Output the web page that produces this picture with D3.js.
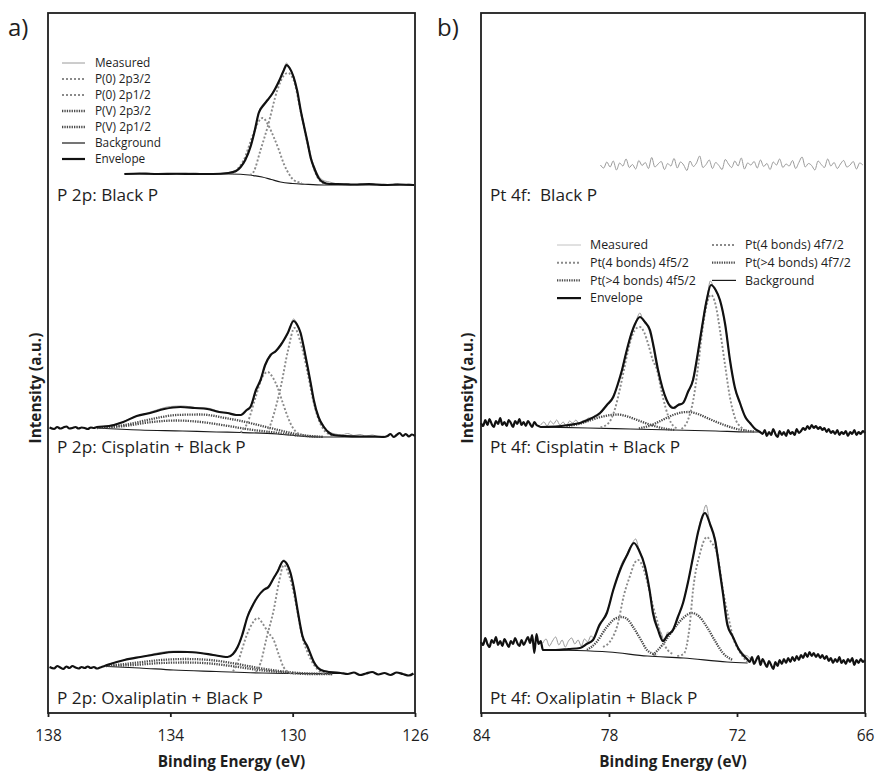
<!DOCTYPE html>
<html>
<head>
<meta charset="utf-8">
<script src="https://cdn.jsdelivr.net/npm/d3@7"></script>
<style>
  body { margin: 0; background: #fff; }
  svg { display: block; }
  text { font-family: "Open Sans", Lato, sans-serif; fill: #1e1e1e; }
</style>
</head>
<body>
<svg id="chart" width="876" height="772"></svg>
<script>
// ---------- axis ticks, labels ----------
const energyTicksP = [138, 134, 130, 126];
const energyTicksPt = [84, 78, 72, 66];
const rowLabelsP = ["P 2p: Black P", "P 2p: Cisplatin + Black P", "P 2p: Oxaliplatin + Black P"];
const rowLabelsPt = ["Pt 4f:  Black P", "Pt 4f: Cisplatin + Black P", "Pt 4f: Oxaliplatin + Black P"];
const legendP = ["Measured", "P(0) 2p3/2", "P(0) 2p1/2", "P(V) 2p3/2", "P(V) 2p1/2", "Background", "Envelope"];
const legendPt = ["Measured", "Pt(4 bonds) 4f5/2", "Pt(>4 bonds) 4f5/2", "Envelope", "Pt(4 bonds) 4f7/2", "Pt(>4 bonds) 4f7/2", "Background"];

// ---------- P 2p spectra: [binding energy (eV), intensity (a.u.)] ----------
const pBlackMeasured = [[135.5,106],[135.2,102],[134.8,108],[134.4,102],[134.0,106],[133.6,104],[133.2,108],[132.8,102],[132.4,106],[132.1,110],[131.85,120],[131.7,136],[131.55,164],[131.38,216],[131.25,268],[131.11,352],[130.95,384],[130.82,396],[130.65,432],[130.46,468],[130.3,520],[130.2,548],[130.1,524],[129.97,496],[129.85,432],[129.74,364],[129.62,296],[129.51,236],[129.4,172],[129.31,140],[129.15,96],[129.02,80],[128.8,72],[128.6,66],[128.4,60],[128.2,66],[128.0,58],[127.8,64],[127.6,60],[127.4,66],[127.2,58],[127.0,64],[126.8,60],[126.6,66],[126.4,58],[126.2,64],[126.03,60]];
const pBlackEnvelope = [[135.5,104],[135.0,106],[134.4,104],[133.8,105],[133.2,104],[132.6,104],[132.1,108],[131.85,116],[131.7,132],[131.55,160],[131.38,212],[131.25,272],[131.11,348],[130.95,380],[130.82,400],[130.65,428],[130.46,472],[130.3,516],[130.2,540],[130.1,528],[129.97,492],[129.85,436],[129.74,360],[129.62,290],[129.51,228],[129.4,164],[129.31,132],[129.15,88],[129.02,72],[128.8,64],[128.52,64],[128.0,62],[127.5,64],[127.0,60],[126.5,62],[126.03,60]];
const pBlackBackground = [[135.5,104],[132.1,104],[131.7,103],[131.3,98],[131.0,92],[130.7,82],[130.4,72],[130.0,66],[129.6,63],[129.0,60],[126.03,60]];
const pBlackP0_32 = [[131.4,100],[131.28,112],[131.05,200],[130.82,292],[130.5,440],[130.3,496],[130.16,508],[129.97,480],[129.74,356],[129.51,224],[129.31,128],[129.1,76],[128.9,64],[128.6,62]];
const pBlackP0_12 = [[132.0,104],[131.8,124],[131.6,160],[131.3,260],[131.1,316],[130.98,328],[130.8,300],[130.62,252],[130.45,200],[130.3,148],[130.1,100],[129.97,80],[129.7,68]];

const pCisMeasured = [[136.4,92],[136.0,98],[135.6,110],[135.2,132],[134.8,146],[134.4,162],[134.0,174],[133.6,176],[133.2,170],[132.8,168],[132.4,154],[132.1,146],[131.85,142],[131.7,138],[131.5,164],[131.38,176],[131.2,236],[131.05,284],[130.9,336],[130.72,384],[130.55,392],[130.39,424],[130.16,464],[129.97,524],[129.85,504],[129.74,464],[129.62,404],[129.51,328],[129.4,264],[129.31,196],[129.15,134],[128.98,96],[128.8,72],[128.6,64],[128.4,60],[128.2,66],[128.0,58],[127.8,62],[127.6,56],[127.4,60],[127.2,54],[127.02,56]];
const pCisEnvelope = [[137.95,90],[137.8,84],[137.7,92],[137.6,86],[137.5,90],[137.4,94],[137.3,86],[137.2,88],[137.1,92],[137.0,86],[136.9,90],[136.8,88],[136.7,84],[136.6,90],[136.5,88],[136.4,92],[136.0,96],[135.54,112],[135.1,136],[134.66,148],[134.2,164],[133.67,172],[133.2,168],[132.79,164],[132.4,152],[132.13,148],[131.85,140],[131.7,140],[131.5,160],[131.38,172],[131.2,240],[131.05,280],[130.9,340],[130.72,380],[130.55,396],[130.39,420],[130.16,468],[129.97,516],[129.85,500],[129.74,468],[129.62,400],[129.51,332],[129.4,260],[129.31,200],[129.15,130],[128.98,92],[128.8,68],[128.66,60],[128.3,56],[127.8,54],[127.3,54],[127.02,52],[126.9,56],[126.8,64],[126.7,52],[126.6,60],[126.5,68],[126.4,56],[126.3,64],[126.2,54],[126.1,62],[126.0,56]];
const pCisBackground = [[136.4,88],[135.0,80],[133.6,76],[132.5,72],[131.7,70],[130.5,64],[129.74,56],[129.0,52],[127.0,52]];
const pCisP0_32 = [[130.82,68],[130.6,150],[130.39,252],[130.15,400],[129.94,488],[129.74,430],[129.51,308],[129.35,210],[129.18,132],[129.0,84],[128.75,60],[128.5,54]];
const pCisP0_12 = [[131.7,70],[131.48,108],[131.21,212],[131.0,290],[130.82,312],[130.65,290],[130.5,252],[130.3,180],[130.16,132],[130.0,90],[129.84,68],[129.6,58]];
const pCisPV_32 = [[136.4,88],[135.5,100],[134.6,124],[133.8,140],[133.0,142],[132.2,128],[131.4,108],[130.6,84],[129.8,62],[129.0,52]];
const pCisPV_12 = [[136.4,88],[135.5,96],[134.6,112],[133.8,118],[133.0,112],[132.2,98],[131.4,82],[130.6,70],[129.8,58],[129.0,52]];

const pOxaMeasured = [[136.07,142],[135.7,154],[135.3,166],[134.9,174],[134.5,186],[134.1,194],[133.7,196],[133.3,192],[132.9,186],[132.5,178],[132.13,174],[131.95,188],[131.8,216],[131.65,256],[131.48,336],[131.3,384],[131.15,408],[130.95,444],[130.79,456],[130.62,484],[130.5,516],[130.3,560],[130.17,544],[130.07,504],[129.95,444],[129.84,356],[129.68,260],[129.51,208],[129.3,154],[129.08,124],[128.8,114],[128.43,110]];
const pOxaEnvelope = [[137.95,132],[137.8,126],[137.7,136],[137.6,130],[137.5,124],[137.4,134],[137.3,128],[137.2,136],[137.1,130],[137.0,126],[136.9,132],[136.8,128],[136.7,134],[136.6,128],[136.5,132],[136.4,126],[136.3,130],[136.2,134],[136.07,140],[135.5,160],[134.98,172],[134.4,184],[133.9,192],[133.45,192],[133.02,188],[132.6,180],[132.13,172],[131.95,184],[131.8,212],[131.65,260],[131.48,332],[131.3,380],[131.15,412],[130.95,440],[130.79,452],[130.62,488],[130.5,512],[130.3,556],[130.17,540],[130.07,508],[129.95,440],[129.84,360],[129.68,256],[129.51,212],[129.3,150],[129.08,120],[128.8,112],[128.43,108],[128.2,104],[128.0,110],[127.8,100],[127.6,106],[127.4,112],[127.2,102],[127.0,108],[126.8,100],[126.6,110],[126.4,104],[126.2,98],[126.05,106]];
const pOxaBackground = [[136.07,134],[135.0,128],[133.9,120],[132.5,114],[131.0,108],[129.5,106],[128.43,106]];
const pOxaP0_32 = [[131.2,112],[131.05,148],[130.85,250],[130.62,360],[130.45,470],[130.29,540],[130.12,500],[129.95,420],[129.84,350],[129.68,250],[129.51,190],[129.3,140],[129.1,114],[128.9,106]];
const pOxaP0_12 = [[131.95,114],[131.77,160],[131.5,260],[131.3,310],[131.15,328],[130.95,300],[130.8,270],[130.62,240],[130.45,180],[130.3,132],[130.1,110],[129.9,106]];
const pOxaPV_32 = [[136.1,136],[135.2,148],[134.3,160],[133.5,164],[132.7,160],[131.9,146],[131.1,128],[130.3,114],[129.5,106],[128.7,104]];
const pOxaPV_12 = [[136.1,136],[135.2,140],[134.3,148],[133.5,150],[132.7,146],[131.9,134],[131.1,120],[130.3,110],[129.5,104],[128.7,104]];

// ---------- Pt 4f spectra: [binding energy (eV), intensity (a.u.)] ----------
const ptBlackMeasured = [[78.4,140],[78.25,128],[78.1,152],[77.95,132],[77.8,156],[77.65,120],[77.5,148],[77.35,136],[77.2,164],[77.05,130],[76.9,142],[76.75,124],[76.6,158],[76.45,138],[76.3,150],[76.15,126],[76.0,170],[75.85,132],[75.7,144],[75.55,154],[75.4,122],[75.25,146],[75.1,136],[74.95,166],[74.8,128],[74.65,152],[74.5,140],[74.35,118],[74.2,156],[74.05,134],[73.9,148],[73.75,176],[73.6,130],[73.45,142],[73.3,160],[73.15,126],[73.0,150],[72.85,138],[72.7,122],[72.55,162],[72.4,144],[72.25,130],[72.1,156],[71.95,136],[71.8,168],[71.65,124],[71.5,148],[71.35,140],[71.2,154],[71.05,128],[70.9,160],[70.75,134],[70.6,146],[70.45,122],[70.3,152],[70.15,140],[70.0,164],[69.85,130],[69.7,144],[69.55,136],[69.4,158],[69.25,126],[69.1,150],[68.95,172],[68.8,132],[68.65,146],[68.5,138],[68.35,120],[68.2,156],[68.05,142],[67.9,130],[67.75,164],[67.6,136],[67.45,150],[67.3,126],[67.15,144],[67.0,158],[66.85,132],[66.7,140],[66.55,154],[66.4,124],[66.25,148],[66.1,140]];

const ptCisMeasured = [[81.2,100],[81.05,112],[80.9,96],[80.75,116],[80.6,104],[80.45,120],[80.3,100],[80.15,112],[80.0,96],[79.85,116],[79.7,108],[79.55,120],[79.4,104],[79.25,116],[79.1,120],[78.95,128],[78.8,124],[78.65,140],[78.5,136],[78.35,152],[78.2,168],[78.05,184],[77.9,200],[77.75,228],[77.6,256],[77.45,300],[77.3,356],[77.15,400],[77.0,456],[76.85,488],[76.7,524],[76.55,548],[76.4,516],[76.25,504],[76.1,472],[75.95,424],[75.8,344],[75.65,300],[75.5,248],[75.35,212],[75.2,184],[75.05,176],[74.9,164],[74.75,184],[74.6,184],[74.45,204],[74.3,228],[74.15,260],[74.0,312],[73.85,380],[73.7,460],[73.55,548],[73.4,612],[73.25,676],[73.1,652],[72.95,628],[72.8,600],[72.65,540],[72.5,476],[72.35,372],[72.2,296],[72.05,228],[71.9,196],[71.75,156],[71.6,136],[71.45,112],[71.3,96],[71.15,88],[71.0,76]];
const ptCisEnvelope = [[84.0,108],[83.9,96],[83.8,120],[83.7,100],[83.6,124],[83.5,104],[83.4,92],[83.3,116],[83.2,104],[83.1,128],[83.0,100],[82.9,112],[82.8,96],[82.7,120],[82.6,108],[82.5,92],[82.4,116],[82.3,104],[82.2,124],[82.1,100],[82.0,112],[81.9,96],[81.8,116],[81.7,104],[81.6,92],[81.5,112],[81.4,100],[81.3,96],[81.2,92],[80.5,94],[79.9,100],[79.36,108],[78.9,124],[78.42,148],[78.1,180],[77.8,212],[77.6,260],[77.39,320],[77.2,388],[77.0,452],[76.8,500],[76.55,532],[76.3,510],[76.08,480],[75.9,410],[75.7,320],[75.5,250],[75.3,200],[75.0,168],[74.75,180],[74.53,188],[74.3,232],[74.06,280],[73.85,380],[73.64,492],[73.42,600],[73.22,660],[73.0,640],[72.8,600],[72.55,500],[72.33,360],[72.1,250],[71.86,188],[71.6,130],[71.39,108],[71.15,84],[70.92,72],[70.8,64],[70.7,80],[70.6,56],[70.5,72],[70.4,60],[70.3,84],[70.2,64],[70.1,52],[70.0,76],[69.9,60],[69.8,72],[69.7,56],[69.6,80],[69.5,64],[69.4,72],[69.3,60],[69.2,84],[69.1,68],[69.0,76],[68.9,88],[68.8,80],[68.7,96],[68.6,84],[68.5,100],[68.4,88],[68.3,96],[68.2,84],[68.1,92],[68.0,80],[67.9,88],[67.8,72],[67.7,84],[67.6,68],[67.5,76],[67.4,64],[67.3,80],[67.2,60],[67.1,72],[67.0,64],[66.9,76],[66.8,56],[66.7,72],[66.6,64],[66.5,80],[66.4,60],[66.3,72],[66.2,64],[66.1,76],[66.0,68]];
const ptCisBackground = [[81.2,92],[79.0,88],[77.0,84],[75.0,80],[73.0,76],[71.5,72],[70.92,72]];
const ptCis4f52_4 = [[78.4,90],[78.0,110],[77.7,170],[77.5,240],[77.3,320],[77.1,400],[76.9,460],[76.7,488],[76.55,492],[76.35,470],[76.15,420],[75.95,360],[75.75,320],[75.55,240],[75.35,170],[75.1,110],[74.8,86]];
const ptCis4f72_4 = [[74.6,84],[74.3,120],[74.05,200],[73.83,330],[73.65,460],[73.45,570],[73.22,620],[73.0,580],[72.8,480],[72.56,340],[72.35,220],[72.1,130],[71.8,90],[71.5,76]];
const ptCis4f52_5 = [[80.0,96],[79.4,104],[78.9,118],[78.4,132],[77.9,140],[77.58,142],[77.2,136],[76.8,124],[76.3,108],[75.8,94],[75.3,84],[74.9,80]];
const ptCis4f72_5 = [[76.6,86],[76.0,100],[75.5,120],[75.0,140],[74.6,150],[74.3,152],[73.9,146],[73.4,128],[72.9,110],[72.4,94],[71.9,82],[71.2,74]];

const ptOxaMeasured = [[81.1,228],[80.95,244],[80.8,216],[80.65,236],[80.5,252],[80.35,220],[80.2,240],[80.05,212],[79.9,236],[79.75,248],[79.6,224],[79.45,240],[79.3,216],[79.15,244],[79.0,232],[78.85,256],[78.7,248],[78.55,276],[78.4,300],[78.25,328],[78.1,356],[77.95,392],[77.8,444],[77.65,480],[77.5,524],[77.35,556],[77.2,576],[77.05,604],[76.9,628],[76.75,644],[76.6,604],[76.45,572],[76.3,528],[76.15,460],[76.0,380],[75.85,332],[75.7,292],[75.55,268],[75.4,232],[75.25,272],[75.1,268],[74.95,296],[74.8,320],[74.65,360],[74.5,396],[74.35,452],[74.2,508],[74.05,580],[73.9,636],[73.75,704],[73.6,744],[73.45,780],[73.3,720],[73.15,676],[73.0,636],[72.85,548],[72.7,452],[72.55,368],[72.4,296],[72.25,268],[72.1,236],[71.95,212],[71.8,196],[71.65,180],[71.5,176],[71.35,160]];
const ptOxaEnvelope = [[84.0,232],[83.9,220],[83.8,248],[83.7,224],[83.6,212],[83.5,240],[83.4,228],[83.3,252],[83.2,220],[83.1,236],[83.0,216],[82.9,244],[82.8,228],[82.7,212],[82.6,236],[82.5,224],[82.4,248],[82.3,228],[82.2,216],[82.1,240],[82.0,220],[81.9,236],[81.8,252],[81.7,228],[81.6,260],[81.5,188],[81.4,264],[81.3,224],[81.2,236],[81.1,200],[80.5,200],[79.9,204],[79.36,208],[79.05,224],[78.75,240],[78.45,300],[78.1,348],[77.8,440],[77.48,520],[77.15,580],[76.83,628],[76.6,600],[76.31,532],[76.1,440],[75.94,348],[75.7,280],[75.47,236],[75.25,260],[75.0,280],[74.78,330],[74.53,388],[74.3,470],[74.06,572],[73.8,680],[73.5,748],[73.25,700],[73.03,640],[72.85,540],[72.66,428],[72.45,300],[72.19,252],[71.9,200],[71.53,164],[71.4,152],[71.3,172],[71.2,144],[71.1,160],[71.0,176],[70.9,140],[70.8,164],[70.7,148],[70.6,132],[70.5,156],[70.4,140],[70.3,124],[70.2,152],[70.1,136],[70.0,160],[69.9,144],[69.8,164],[69.7,148],[69.6,168],[69.5,152],[69.4,172],[69.3,156],[69.2,176],[69.1,160],[69.0,180],[68.9,168],[68.8,188],[68.7,172],[68.6,192],[68.5,176],[68.4,188],[68.3,172],[68.2,184],[68.1,168],[68.0,180],[67.9,164],[67.8,176],[67.7,156],[67.6,168],[67.5,148],[67.4,164],[67.3,152],[67.2,172],[67.1,148],[67.0,160],[66.9,144],[66.8,164],[66.7,152],[66.6,168],[66.5,140],[66.4,160],[66.3,148],[66.2,164],[66.1,152],[66.0,160]];
const ptOxaBackground = [[81.09,200],[79.5,198],[78.0,192],[76.2,176],[74.5,168],[72.47,152],[71.5,148]];
const ptOxa4f52_4 = [[78.28,212],[77.9,240],[77.6,300],[77.3,420],[77.0,500],[76.8,548],[76.64,560],[76.45,540],[76.2,470],[75.95,380],[75.75,320],[75.5,240],[75.25,200],[75.0,184]];
const ptOxa4f72_4 = [[74.8,176],[74.5,184],[74.22,296],[74.06,440],[73.73,588],[73.41,652],[73.2,630],[72.94,590],[72.66,440],[72.4,330],[72.19,252],[71.85,190],[71.53,152]];
const ptOxa4f52_5 = [[79.03,200],[78.6,230],[78.1,292],[77.7,326],[77.39,332],[77.1,320],[76.87,292],[76.5,240],[76.22,200],[75.75,180]];
const ptOxa4f72_5 = [[75.94,180],[75.5,220],[75.0,280],[74.5,330],[74.11,348],[73.8,336],[73.41,292],[73.0,232],[72.66,188],[72.2,160]];

// ---------- drawing ----------
const svg = d3.select("#chart");
const frameTop = 13, frameBottom = 713;
const rowZero = [200, 450, 700];          // intensity 0 of each stacked spectrum
const rowLabelY = [195, 447, 698];
const intensityRange = 250;               // pixel span of 1000 a.u.

const styles = {
  measured:   { stroke: "#9a9a9a", width: 1,   dash: null },
  compA:      { stroke: "#8a8a8a", width: 1.9, dash: "2,2" },
  compB:      { stroke: "#4a4a4a", width: 2.3, dash: "1.3,1.1" },
  background: { stroke: "#1a1a1a", width: 1.2, dash: null },
  envelope:   { stroke: "#111111", width: 2.2, dash: null }
};
const lightMeasured = { stroke: "#c2c2c2", width: 1, dash: null };

const panels = [
  {
    letter: "a)", letterX: 8, x0: 48, x1: 415, domain: [138, 126], ticks: energyTicksP, yTitleX: 36,
    rows: [
      { label: rowLabelsP[0], series: [["background", pBlackBackground], ["compA", pBlackP0_12], ["compA", pBlackP0_32], ["measured", pBlackMeasured], ["envelope", pBlackEnvelope]] },
      { label: rowLabelsP[1], series: [["background", pCisBackground], ["compB", pCisPV_12], ["compB", pCisPV_32], ["compA", pCisP0_12], ["compA", pCisP0_32], ["measured", pCisMeasured], ["envelope", pCisEnvelope]] },
      { label: rowLabelsP[2], series: [["background", pOxaBackground], ["compB", pOxaPV_12], ["compB", pOxaPV_32], ["compA", pOxaP0_12], ["compA", pOxaP0_32], ["measured", pOxaMeasured], ["envelope", pOxaEnvelope]] }
    ],
    legend: {
      items: legendP.map((t, i) => ({ text: t, key: ["measured", "compA", "compA", "compB", "compB", "background", "envelope"][i], col: 0, row: i })),
      colX: [62], lineLen: 23, textGap: 10, y0: 63, dy: 16, fontSize: 11.8
    }
  },
  {
    letter: "b)", letterX: 437, x0: 481, x1: 865, domain: [84, 66], ticks: energyTicksPt, yTitleX: 468,
    rows: [
      { label: rowLabelsPt[0], series: [["measured", ptBlackMeasured]] },
      { label: rowLabelsPt[1], series: [["background", ptCisBackground], ["compB", ptCis4f52_5], ["compB", ptCis4f72_5], ["compA", ptCis4f52_4], ["compA", ptCis4f72_4], ["measured", ptCisMeasured], ["envelope", ptCisEnvelope]] },
      { label: rowLabelsPt[2], series: [["background", ptOxaBackground], ["compB", ptOxa4f52_5], ["compB", ptOxa4f72_5], ["compA", ptOxa4f52_4], ["compA", ptOxa4f72_4], ["measured", ptOxaMeasured], ["envelope", ptOxaEnvelope]] }
    ],
    legend: {
      items: legendPt.map((t, i) => ({
        text: t,
        key: ["measuredLight", "compA", "compB", "envelope", "compA", "compB", "background"][i],
        col: i < 4 ? 0 : 1, row: i < 4 ? i : i - 4
      })),
      colX: [557, 712], lineLen: 24, textGap: 9, y0: 245, dy: 17.7, fontSize: 12.4
    }
  }
];

function applyStyle(sel, st) {
  sel.attr("fill", "none")
     .attr("stroke", st.stroke)
     .attr("stroke-width", st.width)
     .attr("stroke-dasharray", st.dash)
     .attr("stroke-linejoin", "round");
}

panels.forEach(p => {
  const g = svg.append("g");
  const x = d3.scaleLinear().domain(p.domain).range([p.x0, p.x1]);

  // spectra, one stacked row each
  p.rows.forEach((row, ri) => {
    const y = d3.scaleLinear().domain([0, 1000]).range([rowZero[ri], rowZero[ri] - intensityRange]);
    const line = d3.line().x(d => x(d[0])).y(d => y(d[1])).curve(d3.curveMonotoneX);
    row.series.forEach(([key, data]) => {
      g.append("path").datum(data).attr("d", line).call(applyStyle, styles[key]);
    });
    g.append("text")
      .attr("x", p.x0 + 9).attr("y", rowLabelY[ri]).attr("dy", "0.35em")
      .attr("font-size", 17.2)
      .style("white-space", "pre")
      .text(row.label);
  });

  // frame
  g.append("rect")
    .attr("x", p.x0).attr("y", frameTop)
    .attr("width", p.x1 - p.x0).attr("height", frameBottom - frameTop)
    .attr("fill", "none").attr("stroke", "#1e1e1e").attr("stroke-width", 1.8);

  // energy axis
  const axis = g.append("g")
    .attr("transform", `translate(0,${frameBottom})`)
    .call(d3.axisBottom(x).tickValues(p.ticks).tickSize(4).tickPadding(13).tickFormat(d3.format("d")));
  axis.select(".domain").remove();
  axis.selectAll(".tick line").attr("stroke", "#1e1e1e").attr("stroke-width", 1.8);
  axis.selectAll(".tick text").attr("font-size", 15.5).attr("font-family", "'Open Sans', Lato, sans-serif").attr("fill", "#1e1e1e");

  g.append("text")
    .attr("x", (p.x0 + p.x1) / 2).attr("y", 762).attr("dy", "0.35em")
    .attr("text-anchor", "middle").attr("font-size", 15.3).attr("font-weight", "bold")
    .text("Binding Energy (eV)");

  g.append("text")
    .attr("transform", `translate(${p.yTitleX},388) rotate(-90)`)
    .attr("dy", "0.35em")
    .attr("text-anchor", "middle").attr("font-size", 15.3).attr("font-weight", "bold")
    .text("Intensity (a.u.)");

  g.append("text")
    .attr("x", p.letterX).attr("y", 28).attr("dy", "0.35em")
    .attr("font-size", 24)
    .text(p.letter);

  // legend
  const L = p.legend;
  L.items.forEach(it => {
    const lx = L.colX[it.col];
    const ly = L.y0 + it.row * L.dy;
    const st = it.key === "measuredLight" ? lightMeasured : styles[it.key];
    g.append("line")
      .attr("x1", lx).attr("x2", lx + L.lineLen).attr("y1", ly).attr("y2", ly)
      .call(applyStyle, st);
    g.append("text")
      .attr("x", lx + L.lineLen + L.textGap).attr("y", ly).attr("dy", "0.35em")
      .attr("font-size", L.fontSize)
      .text(it.text);
  });
});
</script>
</body>
</html>
